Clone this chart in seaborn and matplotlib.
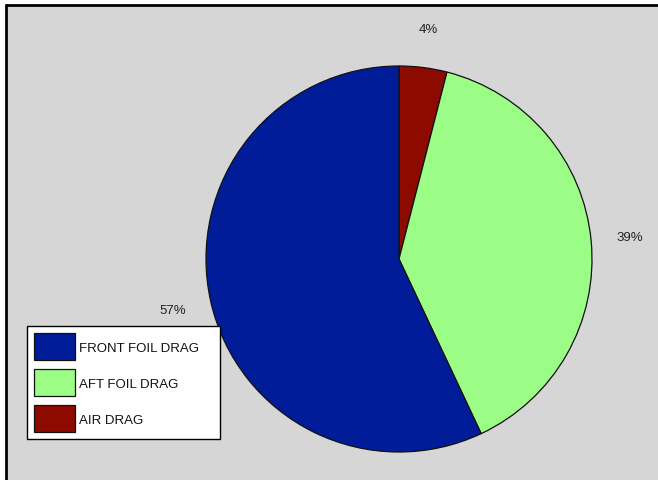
import matplotlib
matplotlib.use("Agg")
import matplotlib.pyplot as plt
import seaborn as sns
from matplotlib.patches import Rectangle

sns.set_theme(style="white")
plt.rcParams["font.family"] = ["Liberation Sans", "DejaVu Sans"]

# Drag breakdown
categories = ["AIR DRAG", "AFT FOIL DRAG", "FRONT FOIL DRAG"]
shares = [4, 39, 57]
colors = ["#8c0a00", "#9bfc86", "#001c99"]
legend_order = ["FRONT FOIL DRAG", "AFT FOIL DRAG", "AIR DRAG"]

W, H = 658, 481
fig = plt.figure(figsize=(W / 100, H / 100), dpi=100, facecolor="white")

# grey panel with a dark frame on the top and left edges
fig.add_artist(Rectangle((6 / W, 0), 1 - 6 / W, 1 - 6 / H, transform=fig.transFigure,
                         facecolor="#d6d6d6", edgecolor="none", zorder=0))
fig.add_artist(plt.Line2D([6 / W, 6 / W], [0, 1 - 6 / H], transform=fig.transFigure,
                          color="black", lw=2, zorder=1))
fig.add_artist(plt.Line2D([6 / W, 1], [1 - 6 / H, 1 - 6 / H], transform=fig.transFigure,
                          color="black", lw=2, zorder=1))

cx, cy, r = 399, 260, 193
ax = fig.add_axes([(cx - r) / W, (H - cy - r) / H, 2 * r / W, 2 * r / H])
ax.set_facecolor("none")

wedges, texts, autotexts = ax.pie(
    shares,
    colors=colors,
    startangle=90,
    counterclock=False,
    autopct="%d%%",
    pctdistance=1.2,
    wedgeprops=dict(edgecolor="#111111", linewidth=0.9),
    textprops=dict(fontsize=9.5, color="#222222"),
)
ax.set_xlim(-1, 1)
ax.set_ylim(-1, 1)
ax.set_aspect("auto")
ax.axis("off")

handle_map = dict(zip(categories, wedges))
handles = [handle_map[c] for c in legend_order]
leg = fig.legend(
    handles, legend_order,
    loc="upper left",
    bbox_to_anchor=(27 / W, 41 / H, 193 / W, 113 / H),
    bbox_transform=fig.transFigure,
    mode="expand",
    borderaxespad=0,
    fontsize=9.5,
    frameon=True,
    fancybox=False,
    edgecolor="black",
    facecolor="white",
    framealpha=1,
    handlelength=3.1,
    handleheight=2.77,
    labelspacing=0.68,
    handletextpad=0.3,
    borderpad=0.55,
)
leg.get_frame().set_linewidth(1.0)
for t in leg.get_texts():
    t.set_color("#111111")

fig.savefig("out.png", dpi=100, facecolor="white")
